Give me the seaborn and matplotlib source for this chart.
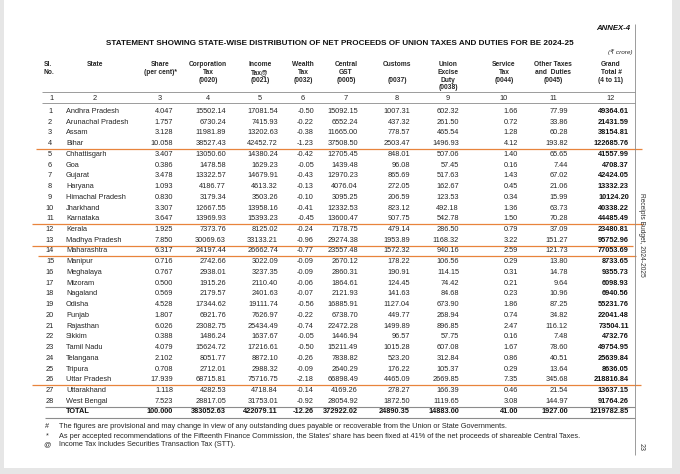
import matplotlib
matplotlib.use("Agg")
import matplotlib.pyplot as plt
import seaborn as sns

sns.set_theme(style="white")
plt.rcParams["font.family"] = ["Liberation Sans", "DejaVu Sans"]

W, H, DPI = 680, 474, 100

# ---- data (Rs crore) ----
states = ["Andhra Pradesh", "Arunachal Pradesh", "Assam", "Bihar", "Chhattisgarh", "Goa",
          "Gujarat", "Haryana", "Himachal Pradesh", "Jharkhand", "Karnataka", "Kerala",
          "Madhya Pradesh", "Maharashtra", "Manipur", "Meghalaya", "Mizoram", "Nagaland",
          "Odisha", "Punjab", "Rajasthan", "Sikkim", "Tamil Nadu", "Telangana", "Tripura",
          "Uttar Pradesh", "Uttarakhand", "West Bengal"]
share = [4.047, 1.757, 3.128, 10.058, 3.407, 0.386, 3.478, 1.093, 0.830, 3.307, 3.647, 1.925,
         7.850, 6.317, 0.716, 0.767, 0.500, 0.569, 4.528, 1.807, 6.026, 0.388, 4.079, 2.102,
         0.708, 17.939, 1.118, 7.523]
corp_tax = [15502.14, 6730.24, 11981.89, 38527.43, 13050.60, 1478.58, 13322.57, 4186.77,
            3179.34, 12667.55, 13969.93, 7373.76, 30069.63, 24197.44, 2742.66, 2938.01,
            1915.26, 2179.57, 17344.62, 6921.76, 23082.75, 1486.24, 15624.72, 8051.77,
            2712.01, 68715.81, 4282.53, 28817.05]
income_tax = [17081.54, 7415.93, 13202.63, 42452.72, 14380.24, 1629.23, 14679.91, 4613.32,
              3503.26, 13958.16, 15393.23, 8125.02, 33133.21, 26662.74, 3022.09, 3237.35,
              2110.40, 2401.63, 19111.74, 7626.97, 25434.49, 1637.67, 17216.61, 8872.10,
              2988.32, 75716.75, 4718.84, 31753.01]
wealth_tax = [-0.50, -0.22, -0.38, -1.23, -0.42, -0.05, -0.43, -0.13, -0.10, -0.41, -0.45,
              -0.24, -0.96, -0.77, -0.09, -0.09, -0.06, -0.07, -0.56, -0.22, -0.74, -0.05,
              -0.50, -0.26, -0.09, -2.18, -0.14, -0.92]
cgst = [15092.15, 6552.24, 11665.00, 37508.50, 12705.45, 1439.48, 12970.23, 4076.04, 3095.25,
        12332.53, 13600.47, 7178.75, 29274.38, 23557.48, 2670.12, 2860.31, 1864.61, 2121.93,
        16885.91, 6738.70, 22472.28, 1446.94, 15211.49, 7838.82, 2640.29, 66898.49, 4169.26,
        28054.92]
customs = [1007.31, 437.32, 778.57, 2503.47, 848.01, 96.08, 865.69, 272.05, 206.59, 823.12,
           907.75, 479.14, 1953.89, 1572.32, 178.22, 190.91, 124.45, 141.63, 1127.04, 449.77,
           1499.89, 96.57, 1015.28, 523.20, 176.22, 4465.09, 278.27, 1872.50]
excise = [602.32, 261.50, 465.54, 1496.93, 507.06, 57.45, 517.63, 162.67, 123.53, 492.18,
          542.78, 286.50, 1168.32, 940.16, 106.56, 114.15, 74.42, 84.68, 673.90, 268.94,
          896.85, 57.75, 607.08, 312.84, 105.37, 2669.85, 166.39, 1119.65]
service_tax = [1.66, 0.72, 1.28, 4.12, 1.40, 0.16, 1.43, 0.45, 0.34, 1.36, 1.50, 0.79, 3.22,
               2.59, 0.29, 0.31, 0.21, 0.23, 1.86, 0.74, 2.47, 0.16, 1.67, 0.86, 0.29, 7.35,
               0.46, 3.08]
other_taxes = [77.99, 33.86, 60.28, 193.82, 65.65, 7.44, 67.02, 21.06, 15.99, 63.73, 70.28,
               37.09, 151.27, 121.73, 13.80, 14.78, 9.64, 10.96, 87.25, 34.82, 116.12, 7.48,
               78.60, 40.51, 13.64, 345.68, 21.54, 144.97]
grand_total = [49364.61, 21431.59, 38154.81, 122685.76, 41557.99, 4708.37, 42424.05, 13332.23,
               10124.20, 40338.22, 44485.49, 23480.81, 95752.96, 77053.69, 8733.65, 9355.73,
               6098.93, 6940.56, 55231.76, 22041.48, 73504.11, 4732.76, 49754.95, 25639.84,
               8636.05, 218816.84, 13637.15, 91764.26]
totals = [100.000, 383052.63, 422079.11, -12.26, 372922.02, 24890.35, 14883.00, 41.00,
          1927.00, 1219782.85]

headers = ["Share\n(per cent)*", "Corporation\nTax\n(0020)", "Income\nTax@\n(0021)",
           "Wealth\nTax\n(0032)", "Central\nGST\n(0005)", "Customs\n\n(0037)",
           "Union\nExcise\nDuty\n(0038)", "Service\nTax\n(0044)", "Other Taxes\nand  Duties\n(0045)",
           "Grand\nTotal #\n(4 to 11)"]
highlighted = [4, 11, 13, 14, 26]  # rows underlined in orange
footnotes = [
    ("#", "The figures are provisional and may change in view of any outstanding dues payable "
          "or recoverable from the Union or State Governments."),
    ("*", "As per accepted recommendations of the Fifteenth Finance Commission, the States' share "
          "has been fixed at 41% of the net proceeds of shareable Central Taxes."),
    ("@", "Income Tax includes Securities Transaction Tax (STT)."),
]

# ---- layout (pixels) ----
num_cols = [share, corp_tax, income_tax, wealth_tax, cgst, customs, excise,
            service_tax, other_taxes, grand_total]
right_x = [173, 226, 278, 314, 358, 410, 459, 518, 568, 629]
center_x = [160, 208, 260, 303, 346, 397, 448, 504, 553, 611]
ROW0, PITCH = 111.5, 10.73
FS = 5.3
TXT = "#262626"
LINE = "#8c8c8c"
ORANGE = "#e8843c"

fig = plt.figure(figsize=(W / DPI, H / DPI), dpi=DPI)
ax = fig.add_axes([0, 0, 1, 1])
ax.set_xlim(0, W)
ax.set_ylim(H, 0)
ax.axis("off")

# page edges
grey = "#e6e6e6"
ax.axvspan(0, 4, color=grey, lw=0)
ax.axvspan(672, W, color=grey, lw=0)
ax.axhspan(468, H, color=grey, lw=0)

ax.text(630, 28, "ANNEX-4", ha="right", va="center", fontsize=5.6,
        fontweight="bold", fontstyle="italic", color="#111")
title = ax.text(340, 43, "STATEMENT SHOWING STATE-WISE DISTRIBUTION OF NET PROCEEDS OF UNION "
                "TAXES AND DUTIES FOR BE 2024-25", ha="center", va="center",
                fontsize=6.5, fontweight="bold", color="#111")
fig.canvas.draw()
tw = title.get_window_extent().width
title.set_fontsize(6.5 * 465 / tw)
ax.text(633, 52, "(\u20b9 crore)", ha="right", va="center", fontsize=4.6,
        fontstyle="italic", color=TXT)

# header block
hy = 61
ax.text(44, hy, "Sl.\nNo.", ha="left", va="top", fontsize=4.8, fontweight="bold",
        color=TXT, linespacing=1.15)
ax.text(95, hy, "State", ha="center", va="top", fontsize=4.8, fontweight="bold", color=TXT)
for cx, h in zip(center_x, headers):
    ax.text(cx, hy, h, ha="center", va="top", fontsize=4.8, fontweight="bold",
            color=TXT, linespacing=1.15)

ax.hlines([91.5, 103], 42, 635, color=LINE, lw=0.6)
ax.text(51, 98, "1", ha="center", va="center", fontsize=FS, color=TXT)
ax.text(95, 98, "2", ha="center", va="center", fontsize=FS, color=TXT)
for k, cx in enumerate(center_x):
    ax.text(cx, 98, str(k + 3), ha="center", va="center", fontsize=FS, color=TXT)

# body rows
for i, st in enumerate(states):
    y = ROW0 + i * PITCH
    ax.text(50, y, str(i + 1), ha="center", va="center", fontsize=FS, color=TXT)
    ax.text(66, y, st, ha="left", va="center", fontsize=FS, color=TXT)
    for j, (col, rx) in enumerate(zip(num_cols, right_x)):
        fmt = "{:.3f}" if j == 0 else "{:.2f}"
        ax.text(rx, y, fmt.format(col[i]), ha="right", va="center", fontsize=FS,
                color="#111" if j == 9 else TXT, fontweight="bold" if j == 9 else "normal")

# total row
ty = ROW0 + len(states) * PITCH
ax.hlines([ty - 5.2, ty + 5.6], 45, 635, color=LINE, lw=0.8)
ax.text(66, ty, "TOTAL", ha="left", va="center", fontsize=FS, fontweight="bold", color="#111")
for j, (v, rx) in enumerate(zip(totals, right_x)):
    fmt = "{:.3f}" if j == 0 else "{:.2f}"
    ax.text(rx, ty, fmt.format(v), ha="right", va="center", fontsize=FS,
            fontweight="bold", color="#111")

# orange underlines
spans = {4: (36, 642), 11: (32, 643), 13: (32, 633), 14: (38, 636), 26: (32, 641)}
for r in highlighted:
    y = ROW0 + (r - 1) * PITCH + PITCH / 2
    ax.hlines(y, spans[r][0], spans[r][1], color=ORANGE, lw=0.9)

# right frame and margin notes
ax.vlines(635, 24, 455, color=LINE, lw=0.6)
ax.text(641, 235, "Receipts Budget, 2024-2025", rotation=-90, ha="center", va="center",
        fontsize=4.8, color="#333")
ax.text(641, 447, "23", rotation=-90, ha="center", va="center", fontsize=5, color="#333")

# footnotes
for k, (sym, note) in enumerate(footnotes):
    fy = 427 + k * 9
    ax.text(47, fy, sym, ha="center", va="center", fontsize=5.2, color=TXT)
    ax.text(59, fy, note, ha="left", va="center", fontsize=5.3, color=TXT)

fig.savefig("out.png", dpi=DPI, facecolor="white")
